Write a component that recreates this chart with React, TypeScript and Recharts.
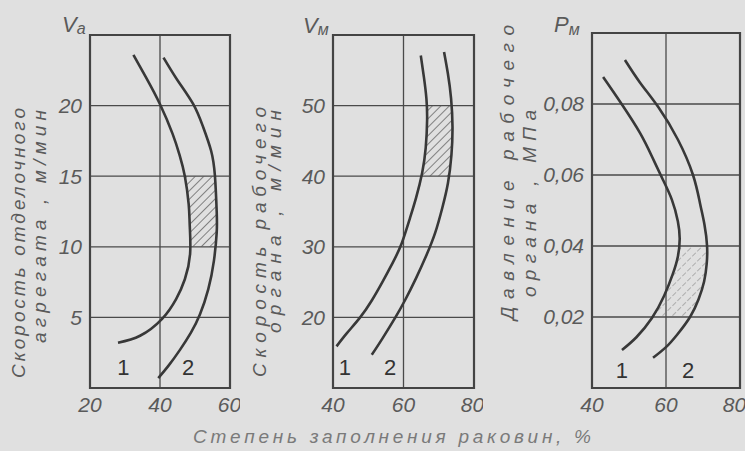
import { ComposedChart, Line, Area, XAxis, YAxis, CartesianGrid, ReferenceArea, ReferenceDot } from 'recharts';

// panel 1: скорость отделочного агрегата (Va), x = степень заполнения, %
const p1Curve1X = [28, 34.3, 40.6, 44.6, 47.1, 48.6, 48.5, 48.2, 47.1, 45.6, 43.6, 40, 36, 32.4];
const p1Curve1Y = [3.2, 3.7, 4.9, 6.3, 7.7, 9.5, 11.5, 13, 15, 16.5, 18, 20.1, 22, 23.6];
const p1Curve2X = [39.5, 42.5, 45.7, 48.8, 51.4, 53.8, 55.4, 56.2, 56.2, 55.7, 54.6, 52.3, 49.5, 45, 41];
const p1Curve2Y = [0.7, 1.6, 2.7, 3.9, 5.2, 7, 9, 11, 12.5, 15, 16.8, 18.5, 20.1, 21.8, 23.4];
const p1HatchY = [10, 11, 12, 13, 14, 15];
const p1HatchL = [48.6, 48.6, 48.4, 48.1, 47.7, 47.1];
const p1HatchR = [55.8, 56.2, 56.2, 56.1, 55.9, 55.7];

// panel 2: скорость рабочего органа (Vм)
const p2Curve1X = [41, 44, 47.7, 51, 54, 57, 59.5, 61.8, 63.6, 65.3, 66.3, 66.7, 66.5, 65.8, 64.9];
const p2Curve1Y = [15.9, 17.8, 20, 22.4, 25, 27.8, 30.5, 34, 37, 40.5, 44, 48, 51, 54, 57.1];
const p2Curve2X = [51, 54, 57.7, 60.5, 63.5, 66.5, 69, 71, 72.6, 73.6, 73.9, 73.5, 72.6, 71.5];
const p2Curve2Y = [14.7, 17, 20, 22.5, 25.5, 28.8, 32, 35.5, 39, 43, 47, 51, 54.5, 57.6];
const p2HatchY = [40, 42, 44, 46, 48, 50];
const p2HatchL = [65.1, 65.8, 66.3, 66.6, 66.7, 66.6];
const p2HatchR = [72.8, 73.3, 73.7, 73.9, 73.8, 73.6];

// panel 3: давление рабочего органа (Pм), МПа
const p3Curve1X = [48.1, 52, 56.2, 59.5, 61.8, 63.2, 63.7, 63.2, 61.6, 59.2, 56.3, 53, 48, 43];
const p3Curve1Y = [0.0107, 0.0143, 0.0197, 0.026, 0.032, 0.037, 0.042, 0.047, 0.053, 0.0586, 0.065, 0.0718, 0.08, 0.0876];
const p3Curve2X = [56.5, 60, 63, 66.5, 68.8, 70.3, 71, 71.1, 70.4, 69.2, 67.3, 63.2, 58, 53, 48.9];
const p3Curve2Y = [0.0085, 0.0115, 0.015, 0.02, 0.025, 0.03, 0.035, 0.04, 0.046, 0.052, 0.06, 0.07, 0.079, 0.086, 0.0924];
const p3HatchY = [0.02, 0.023, 0.026, 0.029, 0.032, 0.035, 0.037, 0.04];
const p3HatchL = [56.3, 58, 59.5, 60.8, 61.8, 62.6, 63.2, 63.6];
const p3HatchR = [66.5, 67.8, 69, 69.9, 70.5, 71, 71.1, 71.1];

const xTicks1 = [20, 40, 60];
const xTicks23 = [40, 60, 80];
const yTicks1 = [5, 10, 15, 20];
const yTicks2 = [20, 30, 40, 50];
const yTicks3 = [0.02, 0.04, 0.06, 0.08];

const toPoints = (xs: number[], ys: number[]) => xs.map((x, i) => ({ x, y: ys[i] }));
const toBand = (ys: number[], ls: number[], rs: number[]) => ys.map((y, i) => ({ y, r: [ls[i], rs[i]] }));

const BG = '#e0e0e0';
const INK = '#383838';
const TEXT = '#5a5a5a';
const FONT = '"Liberation Sans Narrow", "Liberation Sans", sans-serif';

const tickStyle = { fill: TEXT, fontSize: 21, fontStyle: 'italic', fontFamily: FONT };

interface PanelProps {
  left: number;
  width: number;
  top: number;
  right: number;
  xDomain: number[];
  xTicks: number[];
  yDomain: number[];
  yTicks: number[];
  c1: { x: number; y: number }[];
  c2: { x: number; y: number }[];
  band: { y: number; r: number[] }[];
  hatch: string;
  lab1: number[];
  lab2: number[];
  yFmt?: (v: number) => string;
}

function Panel({ left, width, top, right, xDomain, xTicks, yDomain, yTicks, c1, c2, band, hatch, lab1, lab2, yFmt }: PanelProps) {
  return (
    <div style={{ position: 'absolute', left, top: 0 }}>
      <ComposedChart
        layout="vertical"
        width={width}
        height={440}
        margin={{ top, right, bottom: 22, left: 0 }}
      >
        <CartesianGrid stroke="#4a4a4a" strokeWidth={1.3} />
        <XAxis
          type="number"
          dataKey="x"
          domain={xDomain}
          ticks={xTicks}
          allowDataOverflow
          tickLine={false}
          axisLine={false}
          tickSize={6}
          tickMargin={3}
          height={30}
          tick={tickStyle}
        />
        <YAxis
          type="number"
          dataKey="y"
          domain={yDomain}
          ticks={yTicks}
          reversed
          allowDataOverflow
          tickLine={false}
          axisLine={false}
          width={50}
          tick={tickStyle}
          tickFormatter={yFmt}
        />
        <Area
          data={band}
          dataKey="r"
          type="natural"
          stroke="none"
          fill={`url(#${hatch})`}
          fillOpacity={1}
          isAnimationActive={false}
        />
        <Line data={c1} dataKey="x" type="natural" stroke={INK} strokeWidth={2.6} dot={false} isAnimationActive={false} />
        <Line data={c2} dataKey="x" type="natural" stroke={INK} strokeWidth={2.6} dot={false} isAnimationActive={false} />
        <ReferenceArea
          x1={xDomain[0]}
          x2={xDomain[1]}
          y1={yDomain[0]}
          y2={yDomain[1]}
          fill="none"
          stroke="#444"
          strokeWidth={2.2}
          ifOverflow="visible"
        />
        <ReferenceDot x={lab1[0]} y={lab1[1]} r={0} label={{ value: '1', fill: '#333', fontSize: 22, fontFamily: FONT }} />
        <ReferenceDot x={lab2[0]} y={lab2[1]} r={0} label={{ value: '2', fill: '#333', fontSize: 22, fontFamily: FONT }} />
      </ComposedChart>
    </div>
  );
}

const vLabel = (x: number, yStart: number, len: number, text: string) => (
  <text
    x={x}
    y={yStart}
    transform={`rotate(-90 ${x} ${yStart})`}
    textLength={len}
    lengthAdjust="spacing"
    fontSize={19}
    fontStyle="italic"
    fontFamily={FONT}
    fill={TEXT}
  >
    {text}
  </text>
);

export default function App() {
  return (
    <div style={{ position: 'absolute', left: 0, top: 0, width: 745, height: 451, background: BG, overflow: 'hidden' }}>
      <Panel
        left={40}
        width={200}
        top={35}
        right={10}
        xDomain={[20, 60]}
        xTicks={xTicks1}
        yDomain={[0, 25]}
        yTicks={yTicks1}
        c1={toPoints(p1Curve1X, p1Curve1Y)}
        c2={toPoints(p1Curve2X, p1Curve2Y)}
        band={toBand(p1HatchY, p1HatchL, p1HatchR)}
        hatch="hatchDark"
        lab1={[29.5, 1.5]}
        lab2={[48, 1.5]}
      />
      <Panel
        left={283}
        width={200}
        top={35}
        right={9}
        xDomain={[40, 80]}
        xTicks={xTicks23}
        yDomain={[10, 60]}
        yTicks={yTicks2}
        c1={toPoints(p2Curve1X, p2Curve1Y)}
        c2={toPoints(p2Curve2X, p2Curve2Y)}
        band={toBand(p2HatchY, p2HatchL, p2HatchR)}
        hatch="hatchDark"
        lab1={[43.4, 12.9]}
        lab2={[56.2, 12.9]}
      />
      <Panel
        left={542}
        width={203}
        top={33}
        right={5}
        xDomain={[40, 80]}
        xTicks={xTicks23}
        yDomain={[0, 0.1]}
        yTicks={yTicks3}
        c1={toPoints(p3Curve1X, p3Curve1Y)}
        c2={toPoints(p3Curve2X, p3Curve2Y)}
        band={toBand(p3HatchY, p3HatchL, p3HatchR)}
        hatch="hatchLight"
        lab1={[48.1, 0.005]}
        lab2={[66, 0.005]}
        yFmt={(v: number) => v.toFixed(2).replace('.', ',')}
      />
      <svg width={745} height={451} style={{ position: 'absolute', left: 0, top: 0, pointerEvents: 'none' }}>
        <defs>
          <pattern id="hatchDark" patternUnits="userSpaceOnUse" width={6} height={6} patternTransform="rotate(45)">
            <line x1={0} y1={0} x2={0} y2={6} stroke="#555" strokeWidth={1.4} />
          </pattern>
          <pattern id="hatchLight" patternUnits="userSpaceOnUse" width={7} height={7} patternTransform="rotate(45)">
            <line x1={0} y1={0} x2={0} y2={7} stroke="#777" strokeWidth={1} strokeDasharray="5 2" />
          </pattern>
        </defs>
        <g fontFamily={FONT} fontStyle="italic" fill={TEXT}>
          <text x={62} y={32} fontSize={22}>V<tspan fontSize={16} dy={2}>a</tspan></text>
          <text x={303} y={33} fontSize={22}>V<tspan fontSize={16} dy={2}>м</tspan></text>
          <text x={554} y={32} fontSize={22}>P<tspan fontSize={16} dy={3}>м</tspan></text>
        </g>
        {vLabel(25, 378, 270, 'Скорость отделочного')}
        {vLabel(46, 343, 233, 'агрегата , м/мин')}
        {vLabel(266, 377, 270, 'Скорость рабочего')}
        {vLabel(281, 333, 223, 'органа , м/мин')}
        {vLabel(514, 320, 295, 'Давление рабочего')}
        {vLabel(536, 297, 187, 'органа , МПа')}
        <text
          x={193}
          y={443}
          textLength={398}
          lengthAdjust="spacing"
          fontSize={19}
          fontStyle="italic"
          fontFamily={FONT}
          fill="#7a7a7a"
        >
          Степень заполнения раковин, %
        </text>
      </svg>
    </div>
  );
}
